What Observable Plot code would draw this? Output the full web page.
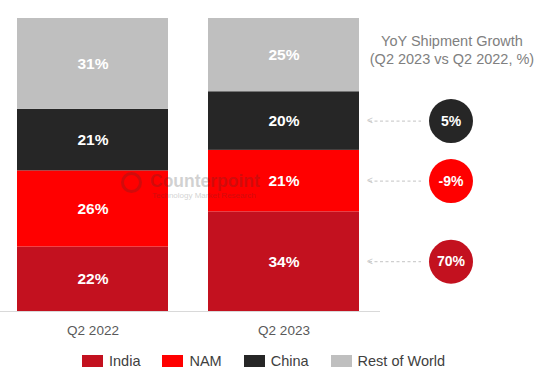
<!DOCTYPE html>
<html>
<head>
<meta charset="utf-8">
<script src="https://cdn.jsdelivr.net/npm/d3@7"></script>
<script src="https://cdn.jsdelivr.net/npm/@observablehq/plot@0.6"></script>
<style>
  html, body { margin: 0; padding: 0; background: #fff; }
  body { width: 554px; height: 377px; position: relative; overflow: hidden; font-family: "Liberation Sans", Arial, sans-serif; }
  #chart { position: absolute; left: 0; top: 0; }
  #title { position: absolute; left: 362px; top: 33px; width: 180px; text-align: center; font-size: 14.5px; line-height: 17.5px; color: #808080; }
  #wm { position: absolute; left: 118px; top: 170px; pointer-events: none; opacity: 0.22; color: #333; }
  #wm .logo { position: absolute; left: 3px; top: 2px; width: 21px; height: 21px; border: 3px solid #333; border-radius: 50%; box-sizing: border-box; }
  #wm .name { position: absolute; left: 32px; top: 1px; font-size: 17.5px; font-weight: bold; white-space: nowrap; }
  #wm .sub { position: absolute; left: 34px; top: 21px; font-size: 8px; white-space: nowrap; }
  #legend { position: absolute; left: 82px; top: 353px; display: flex; align-items: center; font-size: 14.5px; color: #404040; }
  #legend .item { display: flex; align-items: center; margin-right: 22px; }
  #legend .sw { width: 21px; height: 12px; margin-right: 6px; }
</style>
</head>
<body>
<div id="chart"></div>
<div id="title">YoY Shipment Growth<br>(Q2 2023 vs Q2 2022, %)</div>
<div id="wm"><div class="logo"></div><div class="name">Counterpoint</div><div class="sub">Technology Market Research</div></div>
<div id="legend"></div>
<script>
const periods = ["Q2 2022", "Q2 2023"];
const regions = ["India", "NAM", "China", "Rest of World"];
const share2022 = [22, 26, 21, 31];
const share2023 = [34, 21, 20, 25];
const growth2023 = [70, -9, 5, null];
const colors = ["#C3111F", "#FF0000", "#262626", "#BFBFBF"];

const rows = [];
regions.forEach((r, i) => rows.push({period: periods[0], region: r, share: share2022[i], growth: null}));
regions.forEach((r, i) => rows.push({period: periods[1], region: r, share: share2023[i], growth: growth2023[i]}));
const rows2023 = rows.filter(d => d.period === periods[1]);
const colorOf = r => colors[regions.indexOf(r)];

const chart = Plot.plot({
  width: 554,
  height: 350,
  marginLeft: 0,
  marginRight: 174,
  marginTop: 18,
  marginBottom: 39,
  style: {fontFamily: "'Liberation Sans', Arial, sans-serif", background: "transparent"},
  x: {domain: periods, range: [16, 360], paddingInner: 0.208, paddingOuter: 0, label: null},
  y: {domain: [0, 100], axis: null},
  color: {domain: regions, range: colors},
  marks: [
    Plot.ruleY([0], {stroke: "#d9d9d9", strokeWidth: 1.2}),
    Plot.barY(rows, Plot.stackY({x: "period", y: "share", fill: "region"})),
    Plot.text(rows, Plot.stackY({x: "period", y: "share", z: "region", text: d => d.share + "%", fill: "white", fontWeight: "bold", fontSize: 15.5})),
    Plot.tickY(rows2023, Plot.stackY({x: "period", y: "share", z: "region", stroke: d => d.growth == null ? "none" : "#cfcfcf", strokeDasharray: "3,2.5", strokeWidth: 1.2, insetLeft: 161, insetRight: -62})),
    Plot.text(rows2023, Plot.stackY({x: "period", y: "share", z: "region", text: d => d.growth == null ? "" : "<", fill: "#c8c8c8", fontSize: 10, dx: 86})),
    Plot.dot(rows2023, Plot.stackY({x: "period", y: "share", z: "region", r: 22, fill: d => d.growth == null ? "none" : colorOf(d.region), dx: 167})),
    Plot.text(rows2023, Plot.stackY({x: "period", y: "share", z: "region", text: d => d.growth == null ? "" : d.growth + "%", fill: "white", fontWeight: "bold", fontSize: 14, dx: 167})),
    Plot.axisX({tickSize: 0, tickPadding: 14, fontSize: 13.5, color: "#595959", label: null})
  ]
});
document.getElementById("chart").append(chart);

const legend = document.getElementById("legend");
regions.forEach((r, i) => {
  const item = document.createElement("div");
  item.className = "item";
  const sw = document.createElement("div");
  sw.className = "sw";
  sw.style.background = colors[i];
  const t = document.createElement("span");
  t.textContent = r;
  item.append(sw, t);
  legend.append(item);
});
</script>
</body>
</html>
